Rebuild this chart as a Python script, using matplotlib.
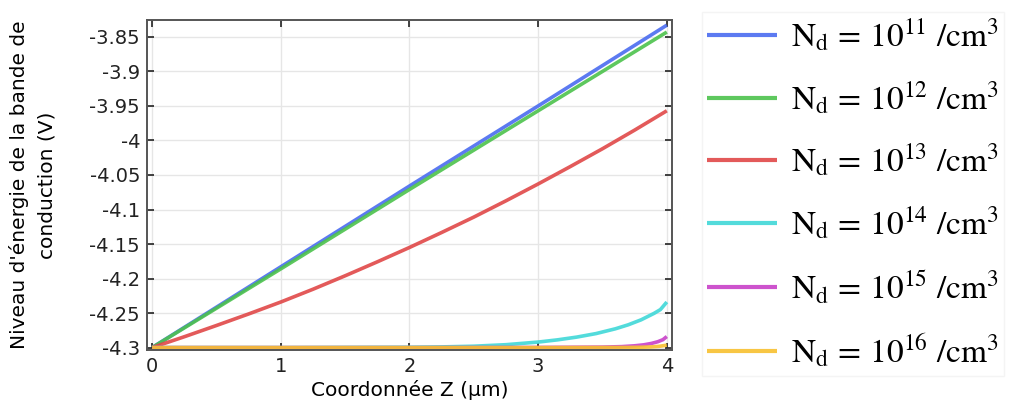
import matplotlib
matplotlib.use("Agg")
import matplotlib.pyplot as plt
from matplotlib.ticker import FuncFormatter, MultipleLocator
import numpy as np

plt.rcParams['axes.unicode_minus'] = False
plt.rcParams['mathtext.fontset'] = 'stix'
plt.rcParams['font.family'] = ['DejaVu Sans']

z_lin = [0, 1, 2, 3, 4]
v_1e11 = [-4.300, -4.183, -4.066, -3.950, -3.833]
v_1e12 = [-4.300, -4.186, -4.071, -3.957, -3.843]

z_red = [0, 0.25, 0.5, 0.75, 1, 1.25, 1.5, 1.75, 2, 2.25, 2.5, 2.75, 3, 3.25, 3.5, 3.75, 4]
v_1e13 = [-4.300, -4.2843, -4.2680, -4.2513, -4.2340, -4.2155, -4.1960, -4.1758, -4.1550,
          -4.1333, -4.1110, -4.0874, -4.0630, -4.0378, -4.0120, -3.9850, -3.9570]

z_cyan = [0, 1, 2, 2.25, 2.5, 2.75, 3, 3.15, 3.3, 3.45, 3.6, 3.7, 3.8, 3.9, 3.95, 4]
v_1e14 = [-4.300, -4.300, -4.2995, -4.2990, -4.2980, -4.2958, -4.2920, -4.2888, -4.2848,
          -4.2797, -4.2728, -4.2670, -4.2598, -4.2505, -4.2450, -4.2340]

z_mag = [0, 1, 2, 3, 3.5, 3.65, 3.75, 3.82, 3.88, 3.93, 3.97, 4]
v_1e15 = [-4.300, -4.300, -4.300, -4.2998, -4.2993, -4.2986, -4.2974, -4.2960, -4.2940,
          -4.2915, -4.2885, -4.2840]

z_yel = [0, 1, 2, 3, 3.7, 3.8, 3.88, 3.94, 4]
v_1e16 = [-4.300, -4.300, -4.300, -4.300, -4.2998, -4.2995, -4.2990, -4.2982, -4.2965]

labels = [r'$\mathrm{N_d}\,=\,10^{11}\ /\mathrm{cm}^3$',
          r'$\mathrm{N_d}\,=\,10^{12}\ /\mathrm{cm}^3$',
          r'$\mathrm{N_d}\,=\,10^{13}\ /\mathrm{cm}^3$',
          r'$\mathrm{N_d}\,=\,10^{14}\ /\mathrm{cm}^3$',
          r'$\mathrm{N_d}\,=\,10^{15}\ /\mathrm{cm}^3$',
          r'$\mathrm{N_d}\,=\,10^{16}\ /\mathrm{cm}^3$']
colors = ['#4a6cf0', '#4cc24c', '#e04848', '#40d8d8', '#c840c8', '#f8c030']

fig = plt.figure(figsize=(10.22, 4.03), dpi=100)
ax = fig.add_axes([0.1438, 0.1315, 0.5137, 0.8189])

series = [(z_lin, v_1e11), (z_lin, v_1e12), (z_red, v_1e13),
          (z_cyan, v_1e14), (z_mag, v_1e15), (z_yel, v_1e16)]
handles = []
for (zx, vy), c, lab in zip(series, colors, labels):
    h, = ax.plot(zx, vy, color=c, lw=2.6, alpha=0.9, label=lab, solid_capstyle='butt')
    handles.append(h)

ax.set_xlim(-0.04, 4.04)
ax.set_ylim(-4.3035, -3.8255)
ax.xaxis.set_major_locator(MultipleLocator(1))
ax.yaxis.set_major_locator(MultipleLocator(0.05))
ax.yaxis.set_major_formatter(FuncFormatter(lambda v, p: '%g' % round(v, 3)))
ax.xaxis.set_major_formatter(FuncFormatter(lambda v, p: '%g' % round(v, 3)))
ax.tick_params(direction='in', top=True, right=True, length=5, width=1.2,
               labelsize=14, colors='#222222', pad=5)
ax.grid(True, color='#e6e6e6', lw=1)
for s in ax.spines.values():
    s.set_color('#555555')
    s.set_linewidth(1.4)

ax.set_xlabel('Coordonnée Z (µm)', fontsize=14.5, labelpad=3)
ax.set_ylabel("Niveau d'énergie de la bande de\nconduction (V)", fontsize=14.5,
              labelpad=24, linespacing=1.55)

leg = fig.legend(handles=handles, labels=labels, loc='upper left',
                 bbox_to_anchor=(0.671, 1.012), fontsize=24, frameon=True,
                 handlelength=2.1, handletextpad=0.4, labelspacing=0.785,
                 borderpad=0.15, fancybox=False)
leg.get_frame().set_edgecolor('#f2f2f2')
leg.get_frame().set_linewidth(1)
for lh in leg.get_lines():
    lh.set_linewidth(3)

fig.savefig('out.png', dpi=100)
